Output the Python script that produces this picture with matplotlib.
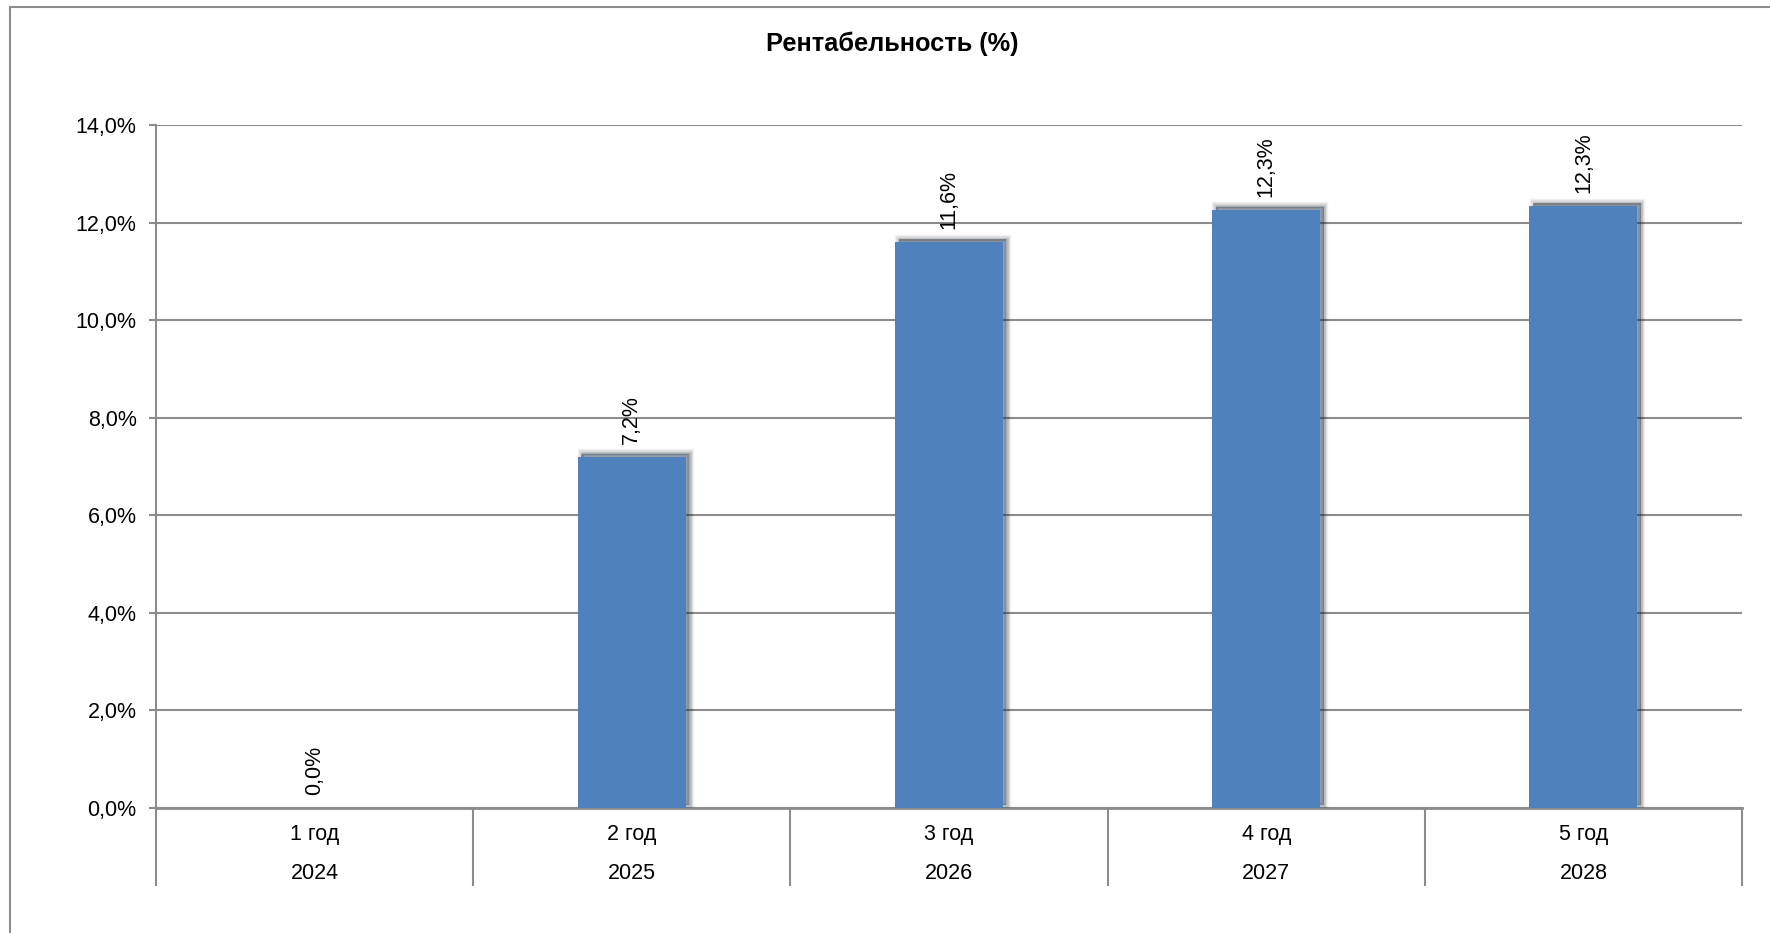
import matplotlib
matplotlib.use("Agg")
import matplotlib.pyplot as plt
import matplotlib.patheffects as pe
from matplotlib.patches import Rectangle
from matplotlib.ticker import FuncFormatter

plt.rcParams['font.family'] = ['Liberation Sans', 'DejaVu Sans']

# данные
years_label = ["1 год", "2 год", "3 год", "4 год", "5 год"]
years = ["2024", "2025", "2026", "2027", "2028"]
profit = [0.0, 7.2, 11.6, 12.26, 12.34]

W, H = 1770, 933
fig = plt.figure(figsize=(W / 100, H / 100), dpi=100)
ax = fig.add_axes([156 / W, 1 - 808 / H, (1742 - 156) / W, (808 - 125) / H])

grid_c = "#8c8c8c"
bar_c = "#4f81bd"
fs = 15.5

x = list(range(len(profit)))
shadow = [pe.Stroke(linewidth=lw, foreground="black", alpha=a, offset=(3, 2.5))
          for lw, a in [(6, 0.06), (4, 0.09), (2, 0.12)]]
shadow += [pe.SimplePatchShadow(offset=(2.5, 2), shadow_rgbFace="black", alpha=0.25), pe.Normal()]
bars = ax.bar(x, profit, width=0.34, color=bar_c, linewidth=0, zorder=3)
for b, v in zip(bars, profit):
    if v > 0:
        b.set_path_effects(shadow)

for i, v in enumerate(profit):
    ax.annotate(f"{v:.1f}%".replace(".", ","), xy=(i, v), xytext=(0, 9.5),
                textcoords="offset points", rotation=90, ha="center", va="bottom",
                fontsize=fs, zorder=4)

ax.set_xlim(-0.5, len(profit) - 0.5)
ax.set_ylim(0, 14)
ax.set_yticks(range(0, 15, 2))
ax.yaxis.set_major_formatter(FuncFormatter(lambda v, p: f"{v:.1f}%".replace(".", ",")))
ax.tick_params(axis="y", length=5, width=1.5, color=grid_c, pad=9, labelsize=fs)
ax.set_xticks([])
ax.grid(axis="y", color=grid_c, linewidth=1.5, zorder=0)
ax.set_axisbelow(True)
for s in ["top", "right"]:
    ax.spines[s].set_visible(False)
ax.spines["left"].set_color(grid_c)
ax.spines["left"].set_linewidth(1.5)
ax.spines["bottom"].set_color(grid_c)
ax.spines["bottom"].set_linewidth(2)

# двухуровневые подписи категорий
for i in range(len(profit)):
    ax.annotate(years_label[i], xy=(i, 0), xycoords=("data", "axes fraction"),
                xytext=(0, -19), textcoords="offset points", ha="center", va="center",
                fontsize=fs)
    ax.annotate(years[i], xy=(i, 0), xycoords=("data", "axes fraction"),
                xytext=(0, -47), textcoords="offset points", ha="center", va="center",
                fontsize=fs)
for k in range(len(profit) + 1):
    ax.plot([k - 0.5, k - 0.5], [0, -77 / 683], transform=ax.get_xaxis_transform(),
            color=grid_c, linewidth=1.5, clip_on=False)

fig.text(892 / W, 1 - 44 / H, "Рентабельность (%)", ha="center", va="center",
         fontsize=18.3, fontweight="bold")

fig.patches.append(Rectangle((10 / W, -0.05), 1.1, 1 - 7 / H + 0.05,
                             transform=fig.transFigure, fill=False,
                             edgecolor=grid_c, linewidth=1.5))

fig.savefig("out.png", dpi=100, facecolor="white")
